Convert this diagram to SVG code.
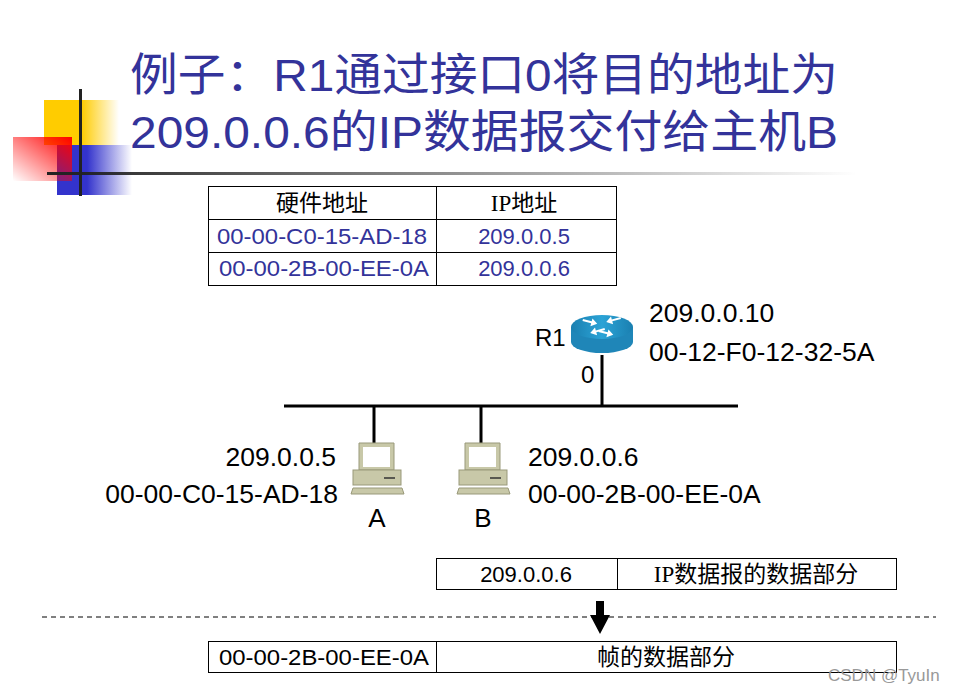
<svg xmlns="http://www.w3.org/2000/svg" width="964" height="694" viewBox="0 0 964 694">
<style>
.t{font-family:"Liberation Sans",Arial,sans-serif;fill:#000}
.c{font-family:"Liberation Serif","Noto Sans CJK SC",serif;fill:#000;font-size:23px}
.b{fill:#33339a}
.cell{fill:none;stroke:#000;stroke-width:1}
.w{stroke:#000;stroke-width:3;fill:none}
</style>
<defs>
<linearGradient id="gy" x1="0" x2="1"><stop offset="0.5" stop-color="#ffcc00"/><stop offset="1" stop-color="#ffcc00" stop-opacity="0"/></linearGradient>
<linearGradient id="gb" x1="0" x2="1"><stop offset="0.4" stop-color="#3333cc"/><stop offset="1" stop-color="#3333cc" stop-opacity="0"/></linearGradient>
<linearGradient id="gr" x1="1" y1="0" x2="0" y2="1"><stop offset="0" stop-color="#ff0000"/><stop offset="1" stop-color="#ff0000" stop-opacity="0"/></linearGradient>
<linearGradient id="gl" x1="0" x2="1"><stop offset="0" stop-color="#222"/><stop offset="1" stop-color="#222" stop-opacity="0"/></linearGradient>
<linearGradient id="gr1" x1="0" x2="1"><stop offset="0" stop-color="#1a7fb0"/><stop offset="0.5" stop-color="#2ba3d6"/><stop offset="1" stop-color="#1a7fb0"/></linearGradient>
<g id="pc">
<path d="M0,0 h35 v27 h-35z" fill="#c8c8a8" stroke="#99997a"/>
<rect x="4" y="4" width="27" height="20" fill="#fff"/>
<rect x="-6" y="27" width="48" height="15" fill="#c8c8a8" stroke="#99997a"/>
<line x1="25" y1="35" x2="36" y2="35" stroke="#333" stroke-width="1.5"/>
<path d="M-6,45 h49 l2,6 h-53z" fill="#c8c8a8" stroke="#99997a"/>
</g>
<path id="ar" d="M0,0 l9,0 l0,-3 l6,4 l-6,4 l0,-3 l-9,0z" fill="#fff"/>
</defs>
<g id="deco">
<rect x="44" y="100" width="75" height="45" fill="url(#gy)"/>
<rect x="57" y="145" width="75" height="50" fill="url(#gb)"/>
<rect x="13" y="137" width="59" height="44" fill="url(#gr)"/>
<rect x="47" y="172" width="810" height="3" fill="url(#gl)"/>
<rect x="79" y="89" width="3" height="107" fill="#222"/>
</g>
<g id="title" font-family="'Liberation Sans','Noto Sans CJK SC',sans-serif" font-size="45" fill="#33339a">
<text x="130" y="91" textLength="708" lengthAdjust="spacingAndGlyphs">例子：R1通过接口0将目的地址为</text>
<text x="130" y="148" textLength="708" lengthAdjust="spacingAndGlyphs">209.0.0.6的IP数据报交付给主机B</text>
</g>
<g id="arptable">
<rect class="cell" x="208.500" y="186.500" width="408" height="33"/>
<rect class="cell" x="208.500" y="219.500" width="408" height="33"/>
<rect class="cell" x="208.500" y="252.500" width="408" height="33"/>
<line x1="436.500" y1="186" x2="436.500" y2="286" stroke="#000"/>
<text class="c" x="322" y="211" text-anchor="middle">硬件地址</text>
<text class="c" x="524" y="211" text-anchor="middle">IP地址</text>
<text class="t b" x="217" y="244" font-size="22" textLength="210" lengthAdjust="spacingAndGlyphs">00-00-C0-15-AD-18</text>
<text class="t b" x="524" y="244" font-size="22" text-anchor="middle">209.0.0.5</text>
<text class="t b" x="219" y="276" font-size="22" textLength="210" lengthAdjust="spacingAndGlyphs">00-00-2B-00-EE-0A</text>
<text class="t b" x="524" y="276" font-size="22" text-anchor="middle">209.0.0.6</text>
</g>
<g id="connectors">
<line class="w" x1="284" y1="406" x2="738" y2="406"/>
<line class="w" x1="374" y1="406" x2="374" y2="443"/>
<line class="w" x1="481" y1="406" x2="481" y2="443"/>
<line class="w" x1="602" y1="355" x2="602" y2="406"/>
</g>
<g id="R1">
<path d="M571,327 v15 a31,11 0 0 0 62,0 v-15z" fill="#1f86b8"/>
<ellipse cx="602" cy="327" rx="31" ry="12" fill="url(#gr1)"/>
<use href="#ar" transform="translate(583,319) rotate(15)"/>
<use href="#ar" transform="translate(621,319) rotate(165)"/>
<use href="#ar" transform="translate(605,330) rotate(165)"/>
<use href="#ar" transform="translate(599,330) rotate(15)"/>
<text class="t" x="535" y="346" font-size="24">R1</text>
<text class="t" x="581" y="383" font-size="24">0</text>
<text class="t" x="649" y="322" font-size="26.5">209.0.0.10</text>
<text class="t" x="649" y="361" font-size="26.5">00-12-F0-12-32-5A</text>
</g>
<g id="hostA">
<use href="#pc" x="359" y="443"/>
<text class="t" x="336" y="466" font-size="26.5" text-anchor="end">209.0.0.5</text>
<text class="t" x="338" y="503" font-size="26.5" text-anchor="end">00-00-C0-15-AD-18</text>
<text class="t" x="377" y="527" font-size="26" text-anchor="middle">A</text>
</g>
<g id="hostB">
<use href="#pc" x="465" y="443"/>
<text class="t" x="528" y="466" font-size="26.5">209.0.0.6</text>
<text class="t" x="528" y="503" font-size="26.5">00-00-2B-00-EE-0A</text>
<text class="t" x="483" y="527" font-size="26" text-anchor="middle">B</text>
</g>
<g id="ipdatagram">
<rect class="cell" x="436.500" y="558.500" width="460" height="31"/>
<line x1="617.500" y1="558" x2="617.500" y2="590" stroke="#000"/>
<text class="t" x="526" y="582" font-size="22" text-anchor="middle">209.0.0.6</text>
<text class="c" x="756" y="582" text-anchor="middle">IP数据报的数据部分</text>
</g>
<line x1="42" y1="617" x2="936" y2="617" stroke="#000" stroke-dasharray="5,4"/>
<path d="M596,601 h8 v14 h6 l-10,19 l-10,-19 h6z" fill="#000"/>
<g id="frame">
<rect class="cell" x="208.500" y="641.500" width="688" height="31"/>
<line x1="436.500" y1="641" x2="436.500" y2="673" stroke="#000"/>
<text class="t" x="219" y="665" font-size="22" textLength="210" lengthAdjust="spacingAndGlyphs">00-00-2B-00-EE-0A</text>
<text class="c" x="666" y="665" text-anchor="middle">帧的数据部分</text>
</g>
<text x="828" y="681" font-family="'Liberation Sans',sans-serif" font-size="17" fill="#999">CSDN @TyuIn</text>
</svg>
